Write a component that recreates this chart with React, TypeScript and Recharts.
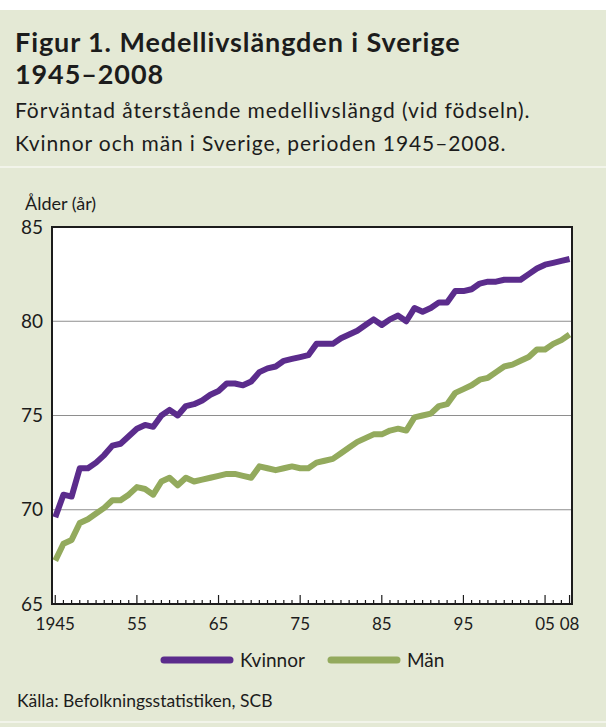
import { LineChart, Line, XAxis, YAxis, CartesianGrid, ReferenceArea } from 'recharts';

const years = [
  1945, 1946, 1947, 1948, 1949, 1950, 1951, 1952, 1953, 1954,
  1955, 1956, 1957, 1958, 1959, 1960, 1961, 1962, 1963, 1964,
  1965, 1966, 1967, 1968, 1969, 1970, 1971, 1972, 1973, 1974,
  1975, 1976, 1977, 1978, 1979, 1980, 1981, 1982, 1983, 1984,
  1985, 1986, 1987, 1988, 1989, 1990, 1991, 1992, 1993, 1994,
  1995, 1996, 1997, 1998, 1999, 2000, 2001, 2002, 2003, 2004,
  2005, 2006, 2007, 2008,
];

const kvinnor = [
  69.6, 70.8, 70.7, 72.2, 72.2, 72.5, 72.9, 73.4, 73.5, 73.9,
  74.3, 74.5, 74.4, 75.0, 75.3, 75.0, 75.5, 75.6, 75.8, 76.1,
  76.3, 76.7, 76.7, 76.6, 76.8, 77.3, 77.5, 77.6, 77.9, 78.0,
  78.1, 78.2, 78.8, 78.8, 78.8, 79.1, 79.3, 79.5, 79.8, 80.1,
  79.8, 80.1, 80.3, 80.0, 80.7, 80.5, 80.7, 81.0, 81.0, 81.6,
  81.6, 81.7, 82.0, 82.1, 82.1, 82.2, 82.2, 82.2, 82.5, 82.8,
  83.0, 83.1, 83.2, 83.3,
];

const man = [
  67.3, 68.2, 68.4, 69.3, 69.5, 69.8, 70.1, 70.5, 70.5, 70.8,
  71.2, 71.1, 70.8, 71.5, 71.7, 71.3, 71.7, 71.5, 71.6, 71.7,
  71.8, 71.9, 71.9, 71.8, 71.7, 72.3, 72.2, 72.1, 72.2, 72.3,
  72.2, 72.2, 72.5, 72.6, 72.7, 73.0, 73.3, 73.6, 73.8, 74.0,
  74.0, 74.2, 74.3, 74.2, 74.9, 75.0, 75.1, 75.5, 75.6, 76.2,
  76.4, 76.6, 76.9, 77.0, 77.3, 77.6, 77.7, 77.9, 78.1, 78.5,
  78.5, 78.8, 79.0, 79.3,
];

const yTicks = [65, 70, 75, 80, 85];
const xLabels: Record<number, string> = {
  1945: '1945', 1955: '55', 1965: '65', 1975: '75', 1985: '85', 1995: '95', 2005: '05', 2008: '08',
};

const PURPLE = '#5b2c8c';
const GREEN = '#93aa5d';
const BG = '#e4e9d5';
const INK = '#1c1c1c';
const FONT = 'Lato, "Open Sans", sans-serif';

const data = years.map((year, i) => ({ year, kvinnor: kvinnor[i], man: man[i] }));

function YearTick(props: any) {
  const { x, y, payload } = props;
  const yr = payload.value as number;
  const major = yr % 10 === 5 || yr === 2008;
  const label = xLabels[yr];
  return (
    <g>
      <line x1={x} x2={x} y1={y} y2={y - (major ? 9 : 4)} stroke={INK} strokeWidth={1.2} />
      {label && (
        <text x={x} y={y + 26} textAnchor="middle" fontSize={17} fill={INK} fontFamily={FONT}>
          {label}
        </text>
      )}
    </g>
  );
}

function Swatch({ color }: { color: string }) {
  return (
    <svg width={74} height={8} style={{ display: 'block' }}>
      <line x1={4} x2={70} y1={4} y2={4} stroke={color} strokeWidth={7} strokeLinecap="round" />
    </svg>
  );
}

export default function App() {
  return (
    <div style={{ position: 'absolute', left: 0, top: 0, width: 606, height: 727, background: BG, fontFamily: FONT, color: INK, overflow: 'hidden' }}>
      <div style={{ position: 'absolute', left: 0, top: 0, width: 606, height: 10, background: '#fff' }} />
      <div style={{ position: 'absolute', left: 0, top: 166, width: 606, height: 2, background: '#f2f4ea' }} />
      <div style={{ position: 'absolute', left: 0, top: 721, width: 606, height: 2, background: '#f2f4ea' }} />

      <div style={{ position: 'absolute', left: 15, top: 26, fontSize: 27, fontWeight: 700, lineHeight: '32px', letterSpacing: 0.9, whiteSpace: 'nowrap' }}>
        Figur 1. Medellivslängden i Sverige
        <br />
        1945–2008
      </div>
      <div style={{ position: 'absolute', left: 15, top: 93, fontSize: 21, lineHeight: '33px', letterSpacing: 0.9, whiteSpace: 'nowrap' }}>
        Förväntad återstående medellivslängd (vid födseln).
        <br />
        Kvinnor och män i Sverige, perioden 1945–2008.
      </div>

      <div style={{ position: 'absolute', left: 25, top: 192, fontSize: 18, whiteSpace: 'nowrap' }}>Ålder (år)</div>

      <div style={{ position: 'absolute', left: 0, top: 0 }}>
        <LineChart width={606} height={727} data={data} margin={{ top: 227, right: 34, bottom: 93, left: 12 }}>
          <CartesianGrid vertical={false} stroke="#8e8e8e" fill="#ffffff" />
          <XAxis
            type="number"
            dataKey="year"
            domain={[1944.6, 2008.3]}
            ticks={years}
            interval={0}
            allowDataOverflow
            height={30}
            tickSize={0}
            tickMargin={0}
            tickLine={false}
            axisLine={{ stroke: INK, strokeWidth: 2 }}
            tick={<YearTick />}
          />
          <YAxis
            type="number"
            domain={[65, 85]}
            ticks={yTicks}
            width={40}
            tickSize={0}
            tickMargin={9}
            tickLine={false}
            axisLine={{ stroke: INK, strokeWidth: 2 }}
            tick={{ fontSize: 19, fill: INK, fontFamily: FONT }}
          />
          <ReferenceArea x1={1944.6} x2={2008.3} y1={65} y2={85} fill="none" stroke={INK} strokeWidth={2} ifOverflow="visible" />
          <Line type="linear" dataKey="man" stroke={GREEN} strokeWidth={6} dot={false} strokeLinejoin="round" isAnimationActive={false} />
          <Line type="linear" dataKey="kvinnor" stroke={PURPLE} strokeWidth={6} dot={false} strokeLinejoin="round" isAnimationActive={false} />
        </LineChart>
      </div>

      <div style={{ position: 'absolute', left: 160, top: 648, display: 'flex', alignItems: 'center', fontSize: 19, whiteSpace: 'nowrap' }}>
        <Swatch color={PURPLE} />
        <span style={{ marginLeft: 6 }}>Kvinnor</span>
        <span style={{ width: 22 }} />
        <Swatch color={GREEN} />
        <span style={{ marginLeft: 6 }}>Män</span>
      </div>

      <div style={{ position: 'absolute', left: 17, top: 690, fontSize: 17.5, whiteSpace: 'nowrap' }}>
        Källa: Befolkningsstatistiken, SCB
      </div>
    </div>
  );
}
